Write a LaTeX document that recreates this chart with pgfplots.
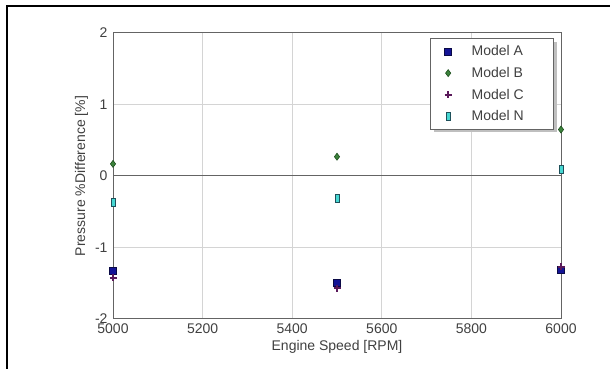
\documentclass[border=0pt]{standalone}
\usepackage{pgfplots}
\pgfplotsset{compat=1.18}
\usepackage{fontspec}
\setmainfont{Liberation Sans}
\usetikzlibrary{shadows}

\definecolor{modelA}{RGB}{20,20,150}
\definecolor{modelAedge}{RGB}{10,10,70}
\definecolor{modelB}{RGB}{60,130,60}
\definecolor{modelBedge}{RGB}{30,80,30}
\definecolor{modelC}{RGB}{90,25,90}
\definecolor{modelN}{RGB}{70,215,210}
\definecolor{modelNedge}{RGB}{30,80,90}
\definecolor{axisgray}{RGB}{100,100,100}
\definecolor{gridgray}{RGB}{212,212,212}

\begin{document}
\begin{tikzpicture}
% page area and outer frame
\path[use as bounding box] (0pt,0pt) rectangle (610pt,369pt);
\draw[line width=2pt, black] (7pt,0pt) -- (7pt,362.5pt) -- (610pt,362.5pt);

\begin{axis}[
  at={(113pt,50pt)}, anchor=south west,
  scale only axis, width=448pt, height=286pt,
  xmin=5000, xmax=6000, ymin=-2, ymax=2,
  xtick={5000,5200,...,6000}, ytick={-2,-1,0,1,2},
  major tick length=0pt,
  grid=major,
  grid style={gridgray, line width=1pt},
  axis line style={axisgray, line width=1pt},
  tick label style={font=\fontsize{14}{16}\selectfont, text=black!75},
  /pgf/number format/assume math mode=true,
  /pgf/number format/1000 sep={},
  xticklabel style={yshift=-1pt},
  yticklabel style={xshift=-2pt},
  xlabel={Engine Speed [RPM]},
  ylabel={Pressure \%Difference [\%]},
  label style={font=\fontsize{14}{16}\selectfont, text=black!75},
  clip=false,
  legend cell align=left,
  legend style={
    at={(0.708,0.982)}, anchor=north west,
    draw=axisgray, line width=1pt, fill=white,
    font=\fontsize{14}{16}\selectfont,
    text=black!75,
    row sep=6pt, inner xsep=14pt, inner ysep=5pt,
    drop shadow={shadow xshift=3pt, shadow yshift=-3pt, fill=gray!50, opacity=1},
    /tikz/every odd column/.append style={column sep=18pt},
  },
]
% zero reference line
\addplot[axisgray, line width=1pt, forget plot] coordinates {(5000,0) (6000,0)};

\addplot[only marks, mark=square*, mark size=3.5pt,
  mark options={fill=modelA, draw=modelAedge, line width=0.6pt}]
  coordinates {(5000,-1.33) (5500,-1.50) (6000,-1.31)};
\addlegendentry{\makebox[66pt][l]{Model A}}

\addplot[only marks, mark=diamond*, mark size=3.5pt,
  mark options={fill=modelB, draw=modelBedge, line width=0.6pt}]
  coordinates {(5000,0.17) (5500,0.27) (6000,0.65)};
\addlegendentry{Model B}

\addplot[only marks, mark=+, mark size=3.5pt,
  mark options={draw=modelC, line width=2pt}]
  coordinates {(5000,-1.42) (5500,-1.57) (6000,-1.27)};
\addlegendentry{Model C}

\addplot[only marks, mark=square*, mark size=4pt,
  mark options={fill=modelN, draw=modelNedge, line width=0.8pt, xscale=0.5}]
  coordinates {(5000,-0.37) (5500,-0.32) (6000,0.09)};
\addlegendentry{Model N}
\end{axis}
\end{tikzpicture}
\end{document}
